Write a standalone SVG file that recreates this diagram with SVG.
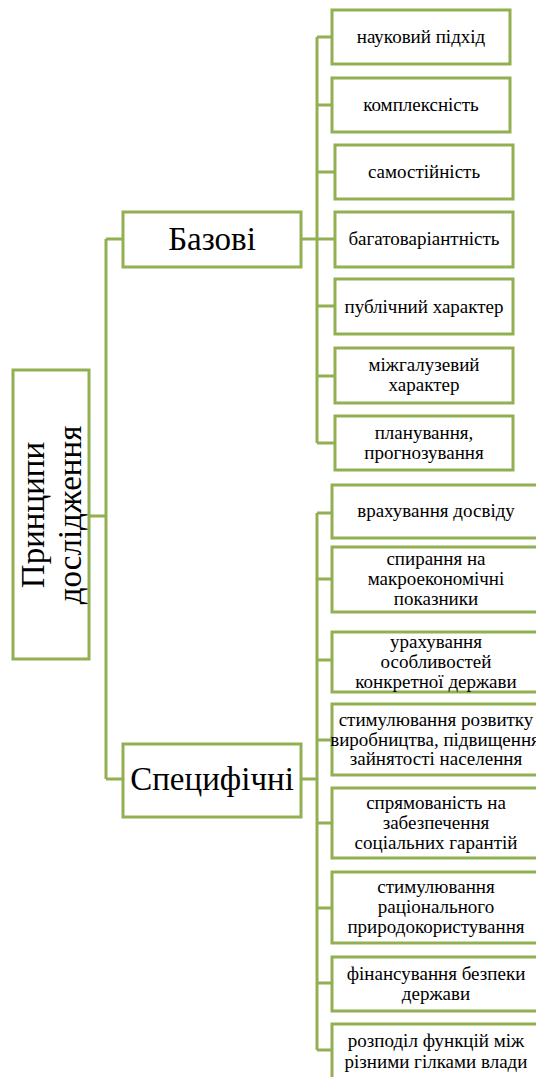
<svg xmlns="http://www.w3.org/2000/svg" width="536" height="1077" viewBox="0 0 536 1077">
<style>
.box{fill:#ffffff;stroke:#92B052;stroke-width:3}
.ln{fill:none;stroke:#92B052;stroke-width:3}
.t{font-family:"Liberation Serif","Times New Roman",serif;font-size:19px;fill:#000000;text-anchor:middle}
.big{font-family:"Liberation Serif","Times New Roman",serif;font-size:33px;fill:#000000;text-anchor:middle}
</style>
<rect width="536" height="1077" fill="#ffffff"/>
<g id="connectors">
<path class="ln" d="M89,516H106M106,239V779M106,239H123M106,779H123"/>
<path class="ln" d="M301,239H317M317,37V443M317,37H332M317,105H332M317,172H335M317,239H335M317,306H335M317,376H335M317,443H335"/>
<path class="ln" d="M301,779H317M317,513V1050M317,513H332M317,579H332M317,660H332M317,740H332M317,823H332M317,908H332M317,983H332M317,1050H332"/>
</g>
<g id="root">
<rect class="box" x="13" y="370" width="76" height="289"/>
<text class="big" transform="translate(51,515) rotate(-90)" x="0" y="-7">Принципи</text>
<text class="big" transform="translate(51,515) rotate(-90)" x="0" y="30">дослідження</text>
</g>
<g id="bazovi">
<rect class="box" x="123" y="212" width="178" height="55"/>
<text class="big" x="212" y="250">Базові</text>
</g>
<g id="spetsyfichni">
<rect class="box" x="123" y="744" width="178" height="73"/>
<text class="big" x="212" y="790">Специфічні</text>
</g>
<g id="b1"><rect class="box" x="332" y="10" width="178" height="54"/><text class="t" x="421" y="43">науковий підхід</text></g>
<g id="b2"><rect class="box" x="332" y="78" width="178" height="54"/><text class="t" x="421" y="111">комплексність</text></g>
<g id="b3"><rect class="box" x="335" y="145" width="178" height="54"/><text class="t" x="424" y="178">самостійність</text></g>
<g id="b4"><rect class="box" x="335" y="212" width="178" height="55"/><text class="t" x="424" y="245">багатоваріантність</text></g>
<g id="b5"><rect class="box" x="335" y="279" width="178" height="55"/><text class="t" x="424" y="312.5">публічний характер</text></g>
<g id="b6"><rect class="box" x="335" y="348" width="178" height="55"/><text class="t" x="424" y="371">міжгалузевий</text><text class="t" x="424" y="391">характер</text></g>
<g id="b7"><rect class="box" x="335" y="416" width="178" height="54"/><text class="t" x="424" y="438.5">планування,</text><text class="t" x="424" y="458.5">прогнозування</text></g>
<g id="s1"><rect class="box" x="332" y="485" width="210" height="53"/><text class="t" x="436" y="517">врахування досвіду</text></g>
<g id="s2"><rect class="box" x="332" y="547" width="210" height="65"/><text class="t" x="436" y="565">спирання на</text><text class="t" x="436" y="585">макроекономічні</text><text class="t" x="436" y="605">показники</text></g>
<g id="s3"><rect class="box" x="332" y="632" width="210" height="60"/><text class="t" x="436" y="647.5">урахування</text><text class="t" x="436" y="667.5">особливостей</text><text class="t" x="436" y="687.5">конкретної держави</text></g>
<g id="s4"><rect class="box" x="332" y="704" width="210" height="71"/><text class="t" x="436" y="726">стимулювання розвитку</text><text class="t" x="435" y="746">виробництва, підвищення</text><text class="t" x="436" y="765">зайнятості населення</text></g>
<g id="s5"><rect class="box" x="332" y="788" width="210" height="70"/><text class="t" x="436" y="808.5">спрямованість на</text><text class="t" x="436" y="828.5">забезпечення</text><text class="t" x="436" y="848.5">соціальних гарантій</text></g>
<g id="s6"><rect class="box" x="332" y="872" width="210" height="71"/><text class="t" x="436" y="893">стимулювання</text><text class="t" x="436" y="913">раціонального</text><text class="t" x="436" y="933">природокористування</text></g>
<g id="s7"><rect class="box" x="332" y="957" width="210" height="54"/><text class="t" x="436" y="979.5">фінансування безпеки</text><text class="t" x="436" y="999.5">держави</text></g>
<g id="s8"><rect class="box" x="332" y="1024" width="210" height="66"/><text class="t" x="436" y="1047">розподіл функцій між</text><text class="t" x="436" y="1068">різними гілками влади</text></g>
</svg>
